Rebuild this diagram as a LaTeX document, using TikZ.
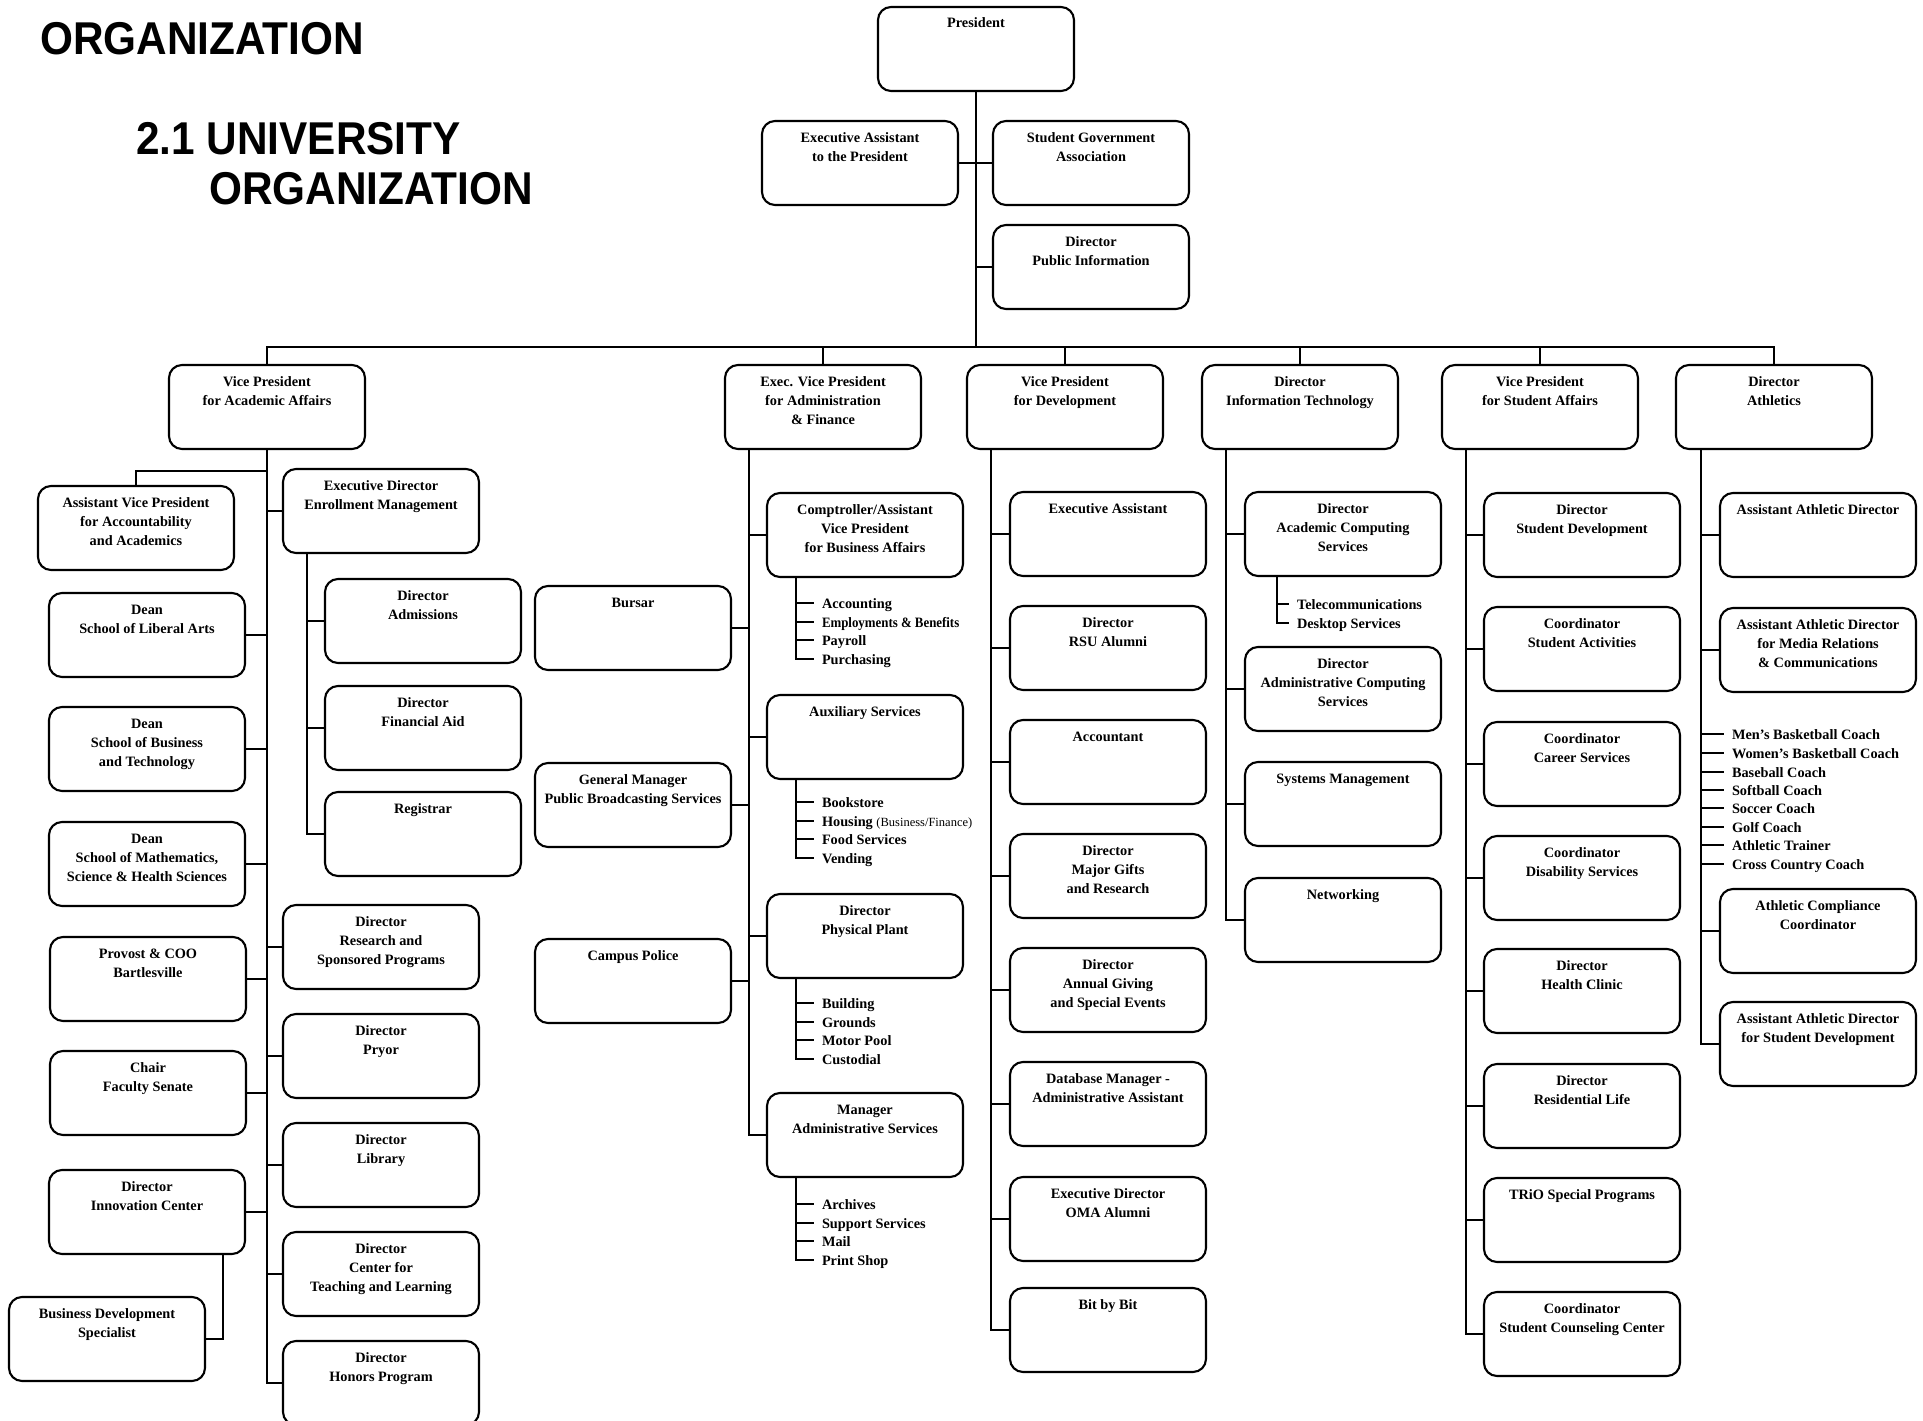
\documentclass[tikz,border=0pt]{standalone}
\usepackage{fontspec}
\usepackage{graphicx}
\setmainfont{Liberation Serif}
\newfontfamily\titlefont{Liberation Sans}
\usetikzlibrary{calc}
\tikzset{
 obox/.style={draw, rounded corners=13pt, line width=2.1pt, inner sep=0pt, outer sep=0pt,
   minimum width=196pt, minimum height=84pt, font=\fontsize{14.3}{19}\selectfont\bfseries},
 item/.style={anchor=west, inner xsep=8pt, inner ysep=0pt, outer sep=0pt, text height=11pt, text depth=1pt,
   font=\fontsize{14.3}{19}\selectfont\bfseries},
 conn/.style={line width=2pt},
 title/.style={anchor=base west, inner sep=0pt, font=\titlefont\fontsize{46}{50}\selectfont\bfseries},
}
\newcommand\ob[4]{\node[obox] (#1) at (#2+98,#3+42) {\parbox[c][84pt][t]{190pt}{\centering\rule{0pt}{21pt}#4}};}
\begin{document}
\begin{tikzpicture}[x=1pt,y=-1pt]
\useasboundingbox (0,0) rectangle (1923,1421);
\clip (0,0) rectangle (1923,1421);
\fill[white] (0,0) rectangle (1923,1421);

% titles
\node[title] (t1) at (40,55) {\scalebox{0.92}[1]{ORGANIZATION}};
\node[title] (t2) at (136,154) {\scalebox{0.92}[1]{2.1 UNIVERSITY}};
\node[title] (t3) at (209,204) {\scalebox{0.92}[1]{ORGANIZATION}};

% top
\ob{Pres}{878}{7}{President}
\ob{EAP}{762}{121}{Executive Assistant\\to the President}
\ob{SGA}{993}{121}{Student Government\\Association}
\ob{PubInfo}{993}{225}{Director\\Public Information}

% level 1
\ob{VPAA}{169}{365}{Vice President\\for Academic Affairs}
\ob{EVPAF}{725}{365}{Exec. Vice President\\for Administration\\\& Finance}
\ob{VPDev}{967}{365}{Vice President\\for Development}
\ob{DirIT}{1202}{365}{Director\\Information Technology}
\ob{VPSA}{1442}{365}{Vice President\\for Student Affairs}
\ob{DirAth}{1676}{365}{Director\\Athletics}

% academic affairs
\ob{AsstVP}{38}{486}{Assistant Vice President\\for Accountability\\and Academics}
\ob{EM}{283}{469}{Executive Director\\Enrollment Management}
\ob{Admissions}{325}{579}{Director\\Admissions}
\ob{FinAid}{325}{686}{Director\\Financial Aid}
\ob{Registrar}{325}{792}{Registrar}
\ob{DeanLA}{49}{593}{Dean\\School of Liberal Arts}
\ob{DeanBus}{49}{707}{Dean\\School of Business\\and Technology}
\ob{DeanMath}{49}{822}{Dean\\School of Mathematics,\\Science \& Health Sciences}
\ob{Research}{283}{905}{Director\\Research and\\Sponsored Programs}
\ob{Provost}{50}{937}{Provost \& COO\\Bartlesville}
\ob{Chair}{50}{1051}{Chair\\Faculty Senate}
\ob{Innovation}{49}{1170}{Director\\Innovation Center}
\ob{BusDev}{9}{1297}{Business Development\\Specialist}
\ob{Pryor}{283}{1014}{Director\\Pryor}
\ob{Library}{283}{1123}{Director\\Library}
\ob{CTL}{283}{1232}{Director\\Center for\\Teaching and Learning}
\ob{Honors}{283}{1341}{Director\\Honors Program}

% administration & finance
\ob{Comptroller}{767}{493}{Comptroller/Assistant\\Vice President\\for Business Affairs}
\ob{Aux}{767}{695}{Auxiliary Services}
\ob{PhysPlant}{767}{894}{Director\\Physical Plant}
\ob{MgrAdmin}{767}{1093}{Manager\\Administrative Services}
\ob{Bursar}{535}{586}{Bursar}
\ob{GMPBS}{535}{763}{General Manager\\Public Broadcasting Services}
\ob{Police}{535}{939}{Campus Police}

\node[item] (Acc) at (814,603) {Accounting};
\node[item] (Emp) at (814,622) {\scalebox{0.9}[1]{Employments \& Benefits}};
\node[item] (Pay) at (814,640) {Payroll};
\node[item] (Pur) at (814,659) {Purchasing};
\node[item] (Book) at (814,802) {Bookstore};
\node[item] (Hous) at (814,821) {Housing {\mdseries\fontsize{12.5}{15}\selectfont(Business/Finance)}};
\node[item] (Food) at (814,839) {Food Services};
\node[item] (Vend) at (814,858) {Vending};
\node[item] (Bld) at (814,1003) {Building};
\node[item] (Grd) at (814,1022) {Grounds};
\node[item] (Mot) at (814,1040) {Motor Pool};
\node[item] (Cus) at (814,1059) {Custodial};
\node[item] (Arc) at (814,1204) {Archives};
\node[item] (Sup) at (814,1223) {Support Services};
\node[item] (Mail) at (814,1241) {Mail};
\node[item] (Print) at (814,1260) {Print Shop};

% development
\ob{EADev}{1010}{492}{Executive Assistant}
\ob{RSU}{1010}{606}{Director\\RSU Alumni}
\ob{Accountant}{1010}{720}{Accountant}
\ob{Gifts}{1010}{834}{Director\\Major Gifts\\and Research}
\ob{Annual}{1010}{948}{Director\\Annual Giving\\and Special Events}
\ob{DBM}{1010}{1062}{Database Manager -\\Administrative Assistant}
\ob{OMA}{1010}{1177}{Executive Director\\OMA Alumni}
\ob{BitBit}{1010}{1288}{Bit by Bit}

% IT
\ob{AcadComp}{1245}{492}{Director\\Academic Computing\\Services}
\ob{AdminComp}{1245}{647}{Director\\Administrative Computing\\Services}
\ob{SysMgmt}{1245}{762}{Systems Management}
\ob{Networking}{1245}{878}{Networking}
\node[item] (Tel) at (1289,604) {Telecommunications};
\node[item] (Desk) at (1289,623) {Desktop Services};

% student affairs
\ob{StuDev}{1484}{493}{Director\\Student Development}
\ob{StuAct}{1484}{607}{Coordinator\\Student Activities}
\ob{Career}{1484}{722}{Coordinator\\Career Services}
\ob{Disab}{1484}{836}{Coordinator\\Disability Services}
\ob{Health}{1484}{949}{Director\\Health Clinic}
\ob{ResLife}{1484}{1064}{Director\\Residential Life}
\ob{TRiO}{1484}{1178}{TRiO Special Programs}
\ob{Counsel}{1484}{1292}{Coordinator\\Student Counseling Center}

% athletics
\ob{AAD}{1720}{493}{Assistant Athletic Director}
\ob{AADMedia}{1720}{608}{Assistant Athletic Director\\for Media Relations\\\& Communications}
\ob{Compliance}{1720}{889}{Athletic Compliance\\Coordinator}
\ob{AADSD}{1720}{1002}{Assistant Athletic Director\\for Student Development}
\node[item] (c1) at (1724,734) {Men’s Basketball Coach};
\node[item] (c2) at (1724,753) {Women’s Basketball Coach};
\node[item] (c3) at (1724,772) {Baseball Coach};
\node[item] (c4) at (1724,790) {Softball Coach};
\node[item] (c5) at (1724,808) {Soccer Coach};
\node[item] (c6) at (1724,827) {Golf Coach};
\node[item] (c7) at (1724,845) {Athletic Trainer};
\node[item] (c8) at (1724,864) {Cross Country Coach};

% ---------- connectors ----------
\coordinate (bar) at (977,347);
\draw[conn] (Pres.south) -- (Pres.south |- bar);
\draw[conn] (EAP.east) -- (SGA.west);
\draw[conn] (Pres.south |- PubInfo.west) -- (PubInfo.west);
\draw[conn] (VPAA.north) |- (DirAth.north |- bar) -- (DirAth.north);
\foreach \n in {EVPAF,VPDev,DirIT,VPSA} \draw[conn] (\n.north) -- (\n.north |- bar);

% academic affairs
\draw[conn] (VPAA.south) |- (Honors.west);
\draw[conn] ($(VPAA.south)+(0,22)$) -| (AsstVP.north);
\foreach \n in {DeanLA,DeanBus,DeanMath,Provost,Chair,Innovation} \draw[conn] (\n.east) -- (\n.east -| VPAA.south);
\foreach \n in {EM,Research,Pryor,Library,CTL} \draw[conn] (\n.west -| VPAA.south) -- (\n.west);
\coordinate (ems) at ([xshift=24pt]EM.south west);
\draw[conn] (ems) |- (Registrar.west);
\foreach \n in {Admissions,FinAid} \draw[conn] (\n.west -| ems) -- (\n.west);
\draw[conn] ([xshift=-22pt]Innovation.south east) |- (BusDev.east);

% administration & finance
\coordinate (evs) at ([xshift=24pt]EVPAF.south west);
\draw[conn] (evs) |- (MgrAdmin.west);
\foreach \n in {Comptroller,Aux,PhysPlant} \draw[conn] (\n.west -| evs) -- (\n.west);
\foreach \n in {Bursar,GMPBS,Police} \draw[conn] (\n.east) -- (\n.east -| evs);
\coordinate (s1) at ([xshift=29pt]Comptroller.south west);
\draw[conn] (s1) |- (Pur.west);
\foreach \n in {Acc,Emp,Pay} \draw[conn] (\n.west -| s1) -- (\n.west);
\coordinate (s2) at ([xshift=29pt]Aux.south west);
\draw[conn] (s2) |- (Vend.west);
\foreach \n in {Book,Hous,Food} \draw[conn] (\n.west -| s2) -- (\n.west);
\coordinate (s3) at ([xshift=29pt]PhysPlant.south west);
\draw[conn] (s3) |- (Cus.west);
\foreach \n in {Bld,Grd,Mot} \draw[conn] (\n.west -| s3) -- (\n.west);
\coordinate (s4) at ([xshift=29pt]MgrAdmin.south west);
\draw[conn] (s4) |- (Print.west);
\foreach \n in {Arc,Sup,Mail} \draw[conn] (\n.west -| s4) -- (\n.west);

% development
\coordinate (vds) at ([xshift=24pt]VPDev.south west);
\draw[conn] (vds) |- (BitBit.west);
\foreach \n in {EADev,RSU,Accountant,Gifts,Annual,DBM,OMA} \draw[conn] (\n.west -| vds) -- (\n.west);

% IT
\coordinate (its) at ([xshift=24pt]DirIT.south west);
\draw[conn] (its) |- (Networking.west);
\foreach \n in {AcadComp,AdminComp,SysMgmt} \draw[conn] (\n.west -| its) -- (\n.west);
\coordinate (acs) at ([xshift=32pt]AcadComp.south west);
\draw[conn] (acs) |- (Desk.west);
\draw[conn] (Tel.west -| acs) -- (Tel.west);

% student affairs
\coordinate (sas) at ([xshift=24pt]VPSA.south west);
\draw[conn] (sas) |- (Counsel.west);
\foreach \n in {StuDev,StuAct,Career,Disab,Health,ResLife,TRiO} \draw[conn] (\n.west -| sas) -- (\n.west);

% athletics
\coordinate (ats) at ([xshift=25pt]DirAth.south west);
\draw[conn] (ats) |- (AADSD.west);
\foreach \n in {AAD,AADMedia,Compliance,c1,c2,c3,c4,c5,c6,c7,c8} \draw[conn] (\n.west -| ats) -- (\n.west);
\end{tikzpicture}
\end{document}
